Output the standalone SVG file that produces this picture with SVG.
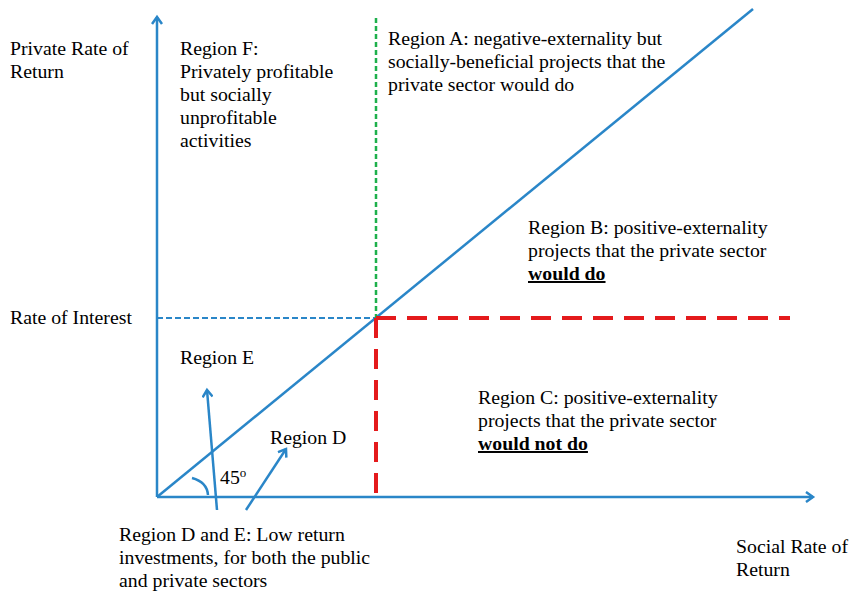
<svg xmlns="http://www.w3.org/2000/svg" width="851" height="597" viewBox="0 0 851 597">
<style>
text{font-family:"Liberation Serif","Times New Roman",serif;font-size:19.8px;fill:#000}
.b{font-weight:bold;text-decoration:underline}
.ax{stroke:#2A86C8;stroke-width:2.5;fill:none}
</style>
<defs>
<marker id="ah" markerWidth="12" markerHeight="12" refX="9" refY="6" orient="auto" markerUnits="userSpaceOnUse">
<path d="M2,1 L9,6 L2,11" fill="none" stroke="#2A86C8" stroke-width="2.5"/>
</marker>
</defs>
<rect width="851" height="597" fill="#fff"/>
<g id="connectors">
<line class="ax" x1="157" y1="497" x2="157" y2="17" marker-end="url(#ah)"/>
<line class="ax" x1="157" y1="497" x2="813" y2="497" marker-end="url(#ah)"/>
<line class="ax" x1="157" y1="497" x2="753" y2="9"/>
<line x1="157" y1="318" x2="376" y2="318" stroke="#2A86C8" stroke-width="2" stroke-dasharray="6,3"/>
<line x1="376" y1="18" x2="376" y2="318" stroke="#1DB04B" stroke-width="2.5" stroke-dasharray="5,3"/>
<line x1="376" y1="318" x2="790" y2="318" stroke="#E41A1C" stroke-width="4" stroke-dasharray="20,11"/>
<line x1="376" y1="318" x2="376" y2="497" stroke="#E41A1C" stroke-width="4" stroke-dasharray="20,11"/>
<line class="ax" x1="217" y1="510" x2="207" y2="390" marker-end="url(#ah)"/>
<line class="ax" x1="246" y1="510" x2="286" y2="449" marker-end="url(#ah)"/>
<path class="ax" d="M192,478 Q207,482 208,495"/>
</g>
<g id="y-label"><text x="10" y="55">Private Rate of</text><text x="10" y="78">Return</text></g>
<g id="region-f"><text x="180" y="55">Region F:</text><text x="180" y="78">Privately profitable</text><text x="180" y="101">but socially</text><text x="180" y="124">unprofitable</text><text x="180" y="147">activities</text></g>
<g id="region-a"><text x="388" y="45">Region A: negative-externality but</text><text x="388" y="68">socially-beneficial projects that the</text><text x="388" y="91">private sector would do</text></g>
<g id="region-b"><text x="528" y="234">Region B: positive-externality</text><text x="528" y="257">projects that the private sector</text><text x="528" y="280" class="b">would do</text></g>
<g id="rate-interest"><text x="10" y="324">Rate of Interest</text></g>
<g id="region-e"><text x="180" y="364">Region E</text></g>
<g id="region-d"><text x="270" y="444">Region D</text></g>
<g id="angle"><text x="220" y="484">45<tspan font-size="13" dy="-7">o</tspan></text></g>
<g id="region-c"><text x="478" y="404">Region C: positive-externality</text><text x="478" y="427">projects that the private sector</text><text x="478" y="450" class="b">would not do</text></g>
<g id="region-de"><text x="119" y="541">Region D and E: Low return</text><text x="119" y="564">investments, for both the public</text><text x="119" y="587">and private sectors</text></g>
<g id="x-label"><text x="736" y="553">Social Rate of</text><text x="736" y="576">Return</text></g>
</svg>
